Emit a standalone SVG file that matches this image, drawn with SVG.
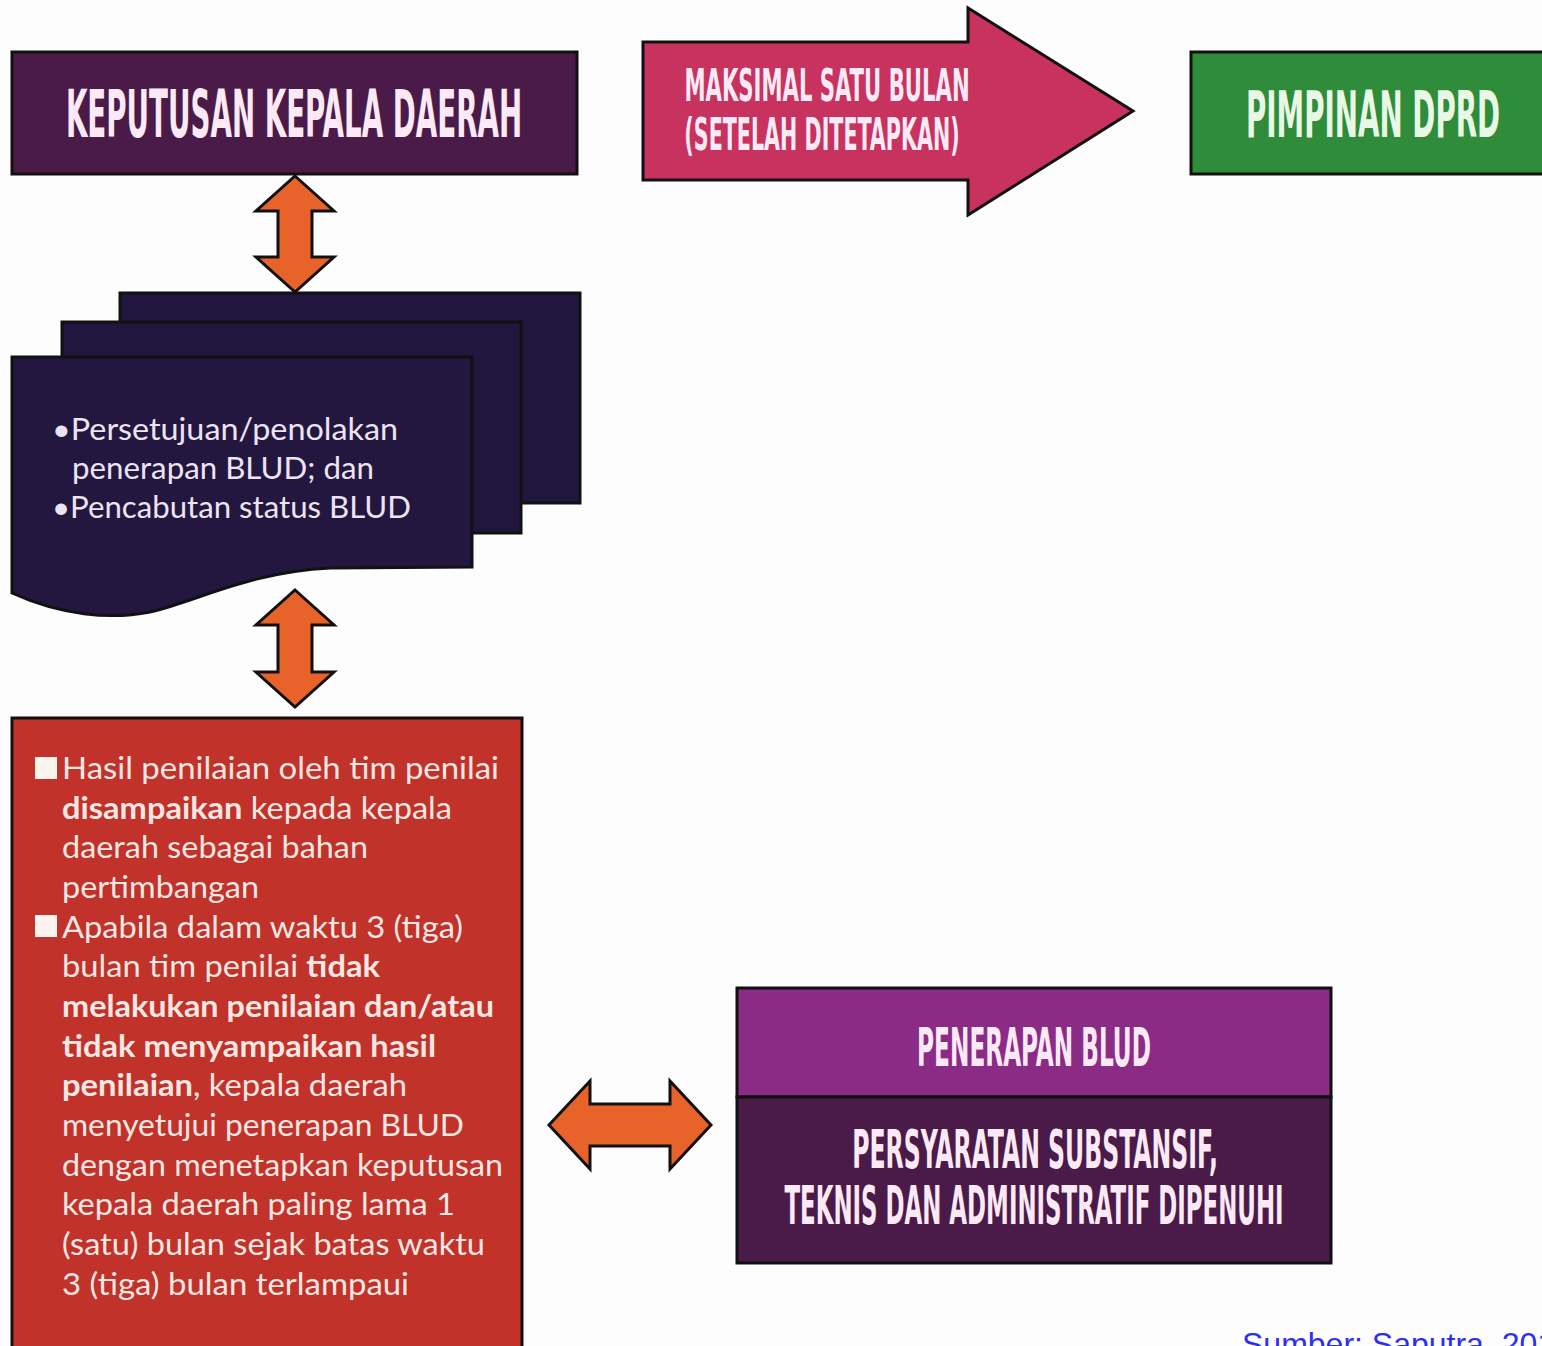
<svg xmlns="http://www.w3.org/2000/svg" width="1542" height="1346" viewBox="0 0 1542 1346">
<style>
.bx{stroke:#111;stroke-width:3}
.ttl{font-family:"Liberation Sans Narrow","DejaVu Sans Condensed","Liberation Sans",sans-serif;font-weight:bold;fill:#fbeaf6;text-anchor:middle}
.body{font-family:Lato,"Open Sans",sans-serif;font-size:31px;fill:#f7e7e2}
.doc{font-family:Lato,"Open Sans",sans-serif;font-size:31px;fill:#ece4f2}
.b{font-weight:bold}
.arr{fill:#e8632a;stroke:#111;stroke-width:3;stroke-linejoin:miter}
</style>
<rect width="1542" height="1346" fill="#fdfdfd"/>

<g id="keputusan-kepala-daerah">
<rect class="bx" x="12" y="52" width="565" height="122" fill="#4a1b49"/>
<text class="ttl" transform="translate(294,137) scale(0.555,1)" font-size="66" textLength="822" lengthAdjust="spacingAndGlyphs">KEPUTUSAN KEPALA DAERAH</text>
</g>

<g id="pimpinan-dprd">
<rect x="1191" y="52" width="360" height="122" fill="#2f8c3b"/>
<path d="M1560,52 H1191 V174 H1560" stroke="#111" stroke-width="3" fill="none"/>
<text class="ttl" transform="translate(1373,137) scale(0.56,1)" font-size="64" textLength="454" lengthAdjust="spacingAndGlyphs" style="fill:#e8f8e4">PIMPINAN DPRD</text>
</g>

<g id="dokumen">
<rect class="bx" x="120" y="293" width="460" height="210" fill="#21163d"/>
<rect class="bx" x="62" y="322" width="459" height="211" fill="#21163d"/>
<path class="bx" d="M12,357 H472 V567 L330,568 C250,572 200,600 150,612 C110,620 60,615 12,593 Z" fill="#24173f"/>
<text class="doc" x="52" y="440" textLength="346" lengthAdjust="spacingAndGlyphs">•Persetujuan/penolakan</text>
<text class="doc" x="72" y="479" textLength="302" lengthAdjust="spacingAndGlyphs">penerapan BLUD; dan</text>
<text class="doc" x="52" y="518" textLength="359" lengthAdjust="spacingAndGlyphs">•Pencabutan status BLUD</text>
</g>

<g id="hasil-penilaian">
<rect class="bx" x="12" y="718" width="510" height="650" fill="#c0322a"/>
<rect x="35" y="757" width="22" height="22" fill="#fbf3ee"/>
<rect x="35" y="915" width="22" height="22" fill="#fbf3ee"/>
<text class="body" x="62" y="779" textLength="437" lengthAdjust="spacingAndGlyphs">Hasil penilaian oleh tim penilai</text>
<text class="body" x="62" y="819" textLength="390" lengthAdjust="spacingAndGlyphs"><tspan class="b">disampaikan</tspan> kepada kepala</text>
<text class="body" x="62" y="858" textLength="306" lengthAdjust="spacingAndGlyphs">daerah sebagai bahan</text>
<text class="body" x="62" y="898" textLength="197" lengthAdjust="spacingAndGlyphs">pertimbangan</text>
<text class="body" x="62" y="938" textLength="401" lengthAdjust="spacingAndGlyphs">Apabila dalam waktu 3 (tiga)</text>
<text class="body" x="62" y="977" textLength="318" lengthAdjust="spacingAndGlyphs">bulan tim penilai <tspan class="b">tidak</tspan></text>
<text class="body b" x="62" y="1017" textLength="432" lengthAdjust="spacingAndGlyphs">melakukan penilaian dan/atau</text>
<text class="body b" x="62" y="1057" textLength="374" lengthAdjust="spacingAndGlyphs">tidak menyampaikan hasil</text>
<text class="body" x="62" y="1096" textLength="345" lengthAdjust="spacingAndGlyphs"><tspan class="b">penilaian</tspan>, kepala daerah</text>
<text class="body" x="62" y="1136" textLength="402" lengthAdjust="spacingAndGlyphs">menyetujui penerapan BLUD</text>
<text class="body" x="62" y="1176" textLength="441" lengthAdjust="spacingAndGlyphs">dengan menetapkan keputusan</text>
<text class="body" x="62" y="1215" textLength="393" lengthAdjust="spacingAndGlyphs">kepala daerah paling lama 1</text>
<text class="body" x="62" y="1255" textLength="423" lengthAdjust="spacingAndGlyphs">(satu) bulan sejak batas waktu</text>
<text class="body" x="62" y="1295" textLength="347" lengthAdjust="spacingAndGlyphs">3 (tiga) bulan terlampaui</text>
</g>

<g id="penerapan-blud">
<rect class="bx" x="737" y="988" width="594" height="109" fill="#8a2b85"/>
<rect class="bx" x="737" y="1097" width="594" height="166" fill="#4a1b49"/>
<text class="ttl" transform="translate(1034,1066) scale(0.576,1)" font-size="53" textLength="406" lengthAdjust="spacingAndGlyphs">PENERAPAN BLUD</text>
<text class="ttl" transform="translate(1035,1168) scale(0.555,1)" font-size="53" textLength="659" lengthAdjust="spacingAndGlyphs">PERSYARATAN SUBSTANSIF,</text>
<text class="ttl" transform="translate(1034,1224) scale(0.6,1)" font-size="53" textLength="832" lengthAdjust="spacingAndGlyphs">TEKNIS DAN ADMINISTRATIF DIPENUHI</text>
</g>

<g id="connectors">
<g id="arrow-maksimal">
<path class="bx" d="M643,42 H968 V8 L1133,111 L968,215 V180 H643 Z" fill="#c7325f"/>
<text class="ttl" transform="translate(827,101) scale(0.62,1)" font-size="45" textLength="460" lengthAdjust="spacingAndGlyphs">MAKSIMAL SATU BULAN</text>
<text class="ttl" transform="translate(822,150) scale(0.62,1)" font-size="45" textLength="444" lengthAdjust="spacingAndGlyphs">(SETELAH DITETAPKAN)</text>
</g>
<path class="arr" d="M295,176 L334,211 L312,211 L312,257 L334,257 L295,292 L256,257 L278,257 L278,211 L256,211 Z"/>
<path class="arr" d="M295,590 L334,625 L312,625 L312,672 L334,672 L295,707 L256,672 L278,672 L278,625 L256,625 Z"/>
<path class="arr" d="M549,1125 L590,1081 L590,1104 L670,1104 L670,1081 L711,1125 L670,1169 L670,1146 L590,1146 L590,1169 Z"/>
</g>

<text x="1242" y="1355" font-family="Liberation Sans, Arial, sans-serif" font-size="32" fill="#2f2ff0">Sumber: Saputra, 201</text>
</svg>
